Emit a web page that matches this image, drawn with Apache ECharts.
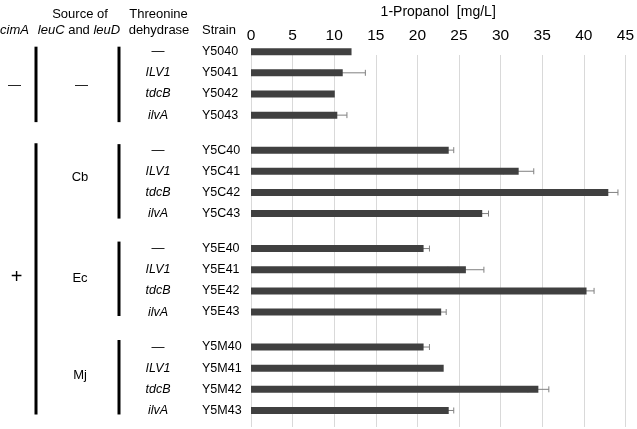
<!DOCTYPE html>
<html><head><meta charset="utf-8">
<script src="https://cdn.jsdelivr.net/npm/echarts@6/dist/echarts.min.js"></script>
<style>html,body{margin:0;padding:0;background:#fff}#c{width:637px;height:429px}</style>
</head><body><div id="c"></div>
<script>
// ---- data ----
const strainLabels = ['Y5040','Y5041','Y5042','Y5043','Y5C40','Y5C41','Y5C42','Y5C43','Y5E40','Y5E41','Y5E42','Y5E43','Y5M40','Y5M41','Y5M42','Y5M43'];
const enzymeLabels = ['—','ILV1','tdcB','ilvA'];
const sourceLabels = ['—','Cb','Ec','Mj'];
const cimALabels = ['—','+'];
const propanol   = [12.0,10.95,10.0,10.3, 23.6,31.95,42.65,27.6, 20.6,25.65,40.05,22.7, 20.6,23.0,34.3,23.6];
const propanolSD = [0,2.7,0,1.15, 0.6,1.8,1.15,0.75, 0.7,2.15,0.9,0.6, 0.7,0,1.25,0.6];
const xMin = 0, xMax = 45, xInterval = 5;
const axisTitle = '1-Propanol  [mg/L]';

// ---- layout ----
const FONT = "'Liberation Sans', Arial, sans-serif";
const plotLeft = 251, plotRight = 9;
const rowH = 21.15, groupPeriod = 98.45, firstTop = 41.1;
const groupTops = [0,1,2,3].map(i => firstTop + i * groupPeriod);

const grids = [{left: plotLeft, right: plotRight, top: 48, bottom: 2}];
const xAxes = [{
  gridIndex: 0, type: 'value', position: 'top', min: xMin, max: xMax, interval: xInterval,
  axisLine: {show: false}, axisTick: {show: false},
  splitLine: {show: true, showMinLine: true, showMaxLine: true, lineStyle: {color: '#d9d9d9', width: 1}},
  axisLabel: {fontSize: 15.5, color: '#000', fontFamily: FONT, margin: 11},
  name: axisTitle, nameLocation: 'middle', nameGap: 36,
  nameTextStyle: {fontSize: 14, color: '#000', fontFamily: FONT}
}];
const yAxes = [{gridIndex: 0, type: 'value', show: false, min: 0, max: 1}];
const series = [];

for (let g = 0; g < 4; g++) {
  const gi = g + 1;
  grids.push({left: plotLeft, right: plotRight, top: groupTops[g], height: rowH * 4});
  xAxes.push({gridIndex: gi, type: 'value', min: xMin, max: xMax, show: false});
  const strains = strainLabels.slice(g * 4, g * 4 + 4);
  yAxes.push({
    gridIndex: gi, type: 'category', inverse: true, data: strains, position: 'left',
    axisLine: {show: false}, axisTick: {show: false}, splitLine: {show: false},
    axisLabel: {align: 'left', margin: 49, fontSize: 12.5, color: '#000', fontFamily: FONT}
  });
  yAxes.push({
    gridIndex: gi, type: 'category', inverse: true, data: enzymeLabels, position: 'left',
    axisLine: {show: false}, axisTick: {show: false}, splitLine: {show: false},
    axisLabel: {align: 'center', margin: 93, fontSize: 12.5, color: '#000', fontFamily: FONT,
      formatter: v => v === '—' ? '{n|' + v + '}' : '{i|' + v + '}',
      rich: {i: {fontStyle: 'italic', fontSize: 12.5, fontFamily: FONT}, n: {fontSize: 13, fontFamily: FONT}}}
  });
  const vals = propanol.slice(g * 4, g * 4 + 4);
  const sds = propanolSD.slice(g * 4, g * 4 + 4);
  series.push({
    type: 'bar', xAxisIndex: gi, yAxisIndex: 1 + g * 2, barWidth: 7, z: 3,
    itemStyle: {color: '#404040'}, data: vals, silent: true
  });
  series.push({
    type: 'custom', xAxisIndex: gi, yAxisIndex: 1 + g * 2, z: 2, silent: true,
    encode: {x: [0, 1], y: 2},
    data: vals.map((v, i) => [v - sds[i], v + sds[i], i]).filter((d, i) => sds[i] > 0),
    renderItem: function (params, api) {
      const lo = api.coord([api.value(0), api.value(2)]);
      const hi = api.coord([api.value(1), api.value(2)]);
      const st = {stroke: '#808080', lineWidth: 1};
      return {type: 'group', children: [
        {type: 'line', shape: {x1: lo[0], y1: lo[1], x2: hi[0], y2: hi[1]}, style: st},
        {type: 'line', shape: {x1: hi[0], y1: hi[1] - 3, x2: hi[0], y2: hi[1] + 3}, style: st},
        {type: 'line', shape: {x1: lo[0], y1: lo[1] - 3, x2: lo[0], y2: lo[1] + 3}, style: st}
      ]};
    }
  });
}

// ---- left annotation graphics ----
function txt(x, y, text, opts) {
  return Object.assign({type: 'text', x: x, y: y, silent: true,
    style: Object.assign({text: text, fill: '#000', fontSize: 13, fontFamily: FONT, align: 'center', verticalAlign: 'middle'}, opts || {})});
}
function vline(x, y1, y2) {
  return {type: 'line', silent: true, shape: {x1: x, y1: y1, x2: x, y2: y2}, style: {stroke: '#000', lineWidth: 3}};
}
const rowY = (g, r) => groupTops[g] + rowH * (r + 0.5);
const graphics = [
  txt(0, 30, 'cimA', {align: 'left', fontStyle: 'italic'}),
  txt(80, 14, 'Source of'),
  txt(79, 30, '{i|leuC} and {i|leuD}', {rich: {i: {fontStyle: 'italic', fontSize: 13, fontFamily: FONT}}}),
  txt(158.5, 14, 'Threonine'),
  txt(159, 30, 'dehydrase'),
  txt(202, 30, 'Strain', {align: 'left'}),
  txt(14.5, 85, cimALabels[0], {fontSize: 13}),
  txt(16.5, 277, cimALabels[1], {fontSize: 20}),
  txt(81.5, 85, sourceLabels[0]),
  txt(80, 177, sourceLabels[1]),
  txt(80, 278, sourceLabels[2]),
  txt(80, 375, sourceLabels[3]),
  vline(36, rowY(0, 0) - 5, rowY(0, 3) + 7),
  vline(119, rowY(0, 0) - 5, rowY(0, 3) + 7),
  vline(36, rowY(1, 0) - 7, rowY(3, 3) + 4),
  vline(119, rowY(1, 0) - 6, rowY(1, 3) + 5),
  vline(119, rowY(2, 0) - 7, rowY(2, 3) + 4),
  vline(119, rowY(3, 0) - 7, rowY(3, 3) + 4)
];

const chart = echarts.init(document.getElementById('c'), null, {renderer: 'canvas'});
chart.setOption({
  animation: false,
  backgroundColor: '#fff',
  textStyle: {fontFamily: FONT},
  grid: grids, xAxis: xAxes, yAxis: yAxes, series: series,
  graphic: graphics
});
</script></body></html>
